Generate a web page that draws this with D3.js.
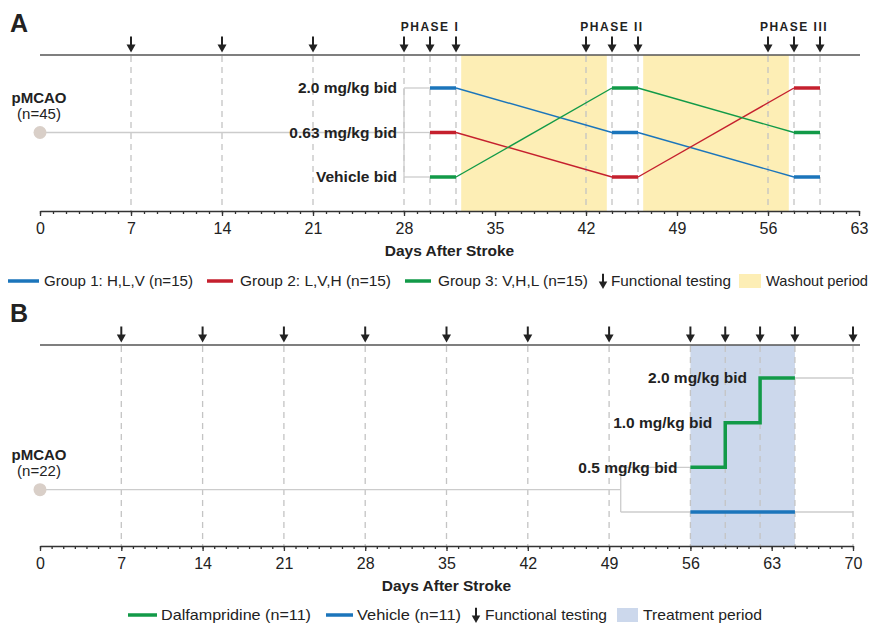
<!DOCTYPE html>
<html>
<head>
<meta charset="utf-8">
<script src="https://cdn.jsdelivr.net/npm/d3@7"></script>
<style>
  body { margin: 0; background: #fff; }
  svg { font-family: "Liberation Sans", Arial, sans-serif; }
  .tick text { font-size: 16px; fill: #222; }
  .axis path, .axis line { stroke: #333; stroke-width: 1.3; }
</style>
</head>
<body>
<svg id="chart" width="874" height="624"></svg>
<script>
// Panel A - crossover design
var ticksA = [0, 7, 14, 21, 28, 35, 42, 49, 56, 63];
var testDaysA = [7, 14, 21, 28, 30, 32, 42, 44, 46, 56, 58, 60];
var phaseNames = ["PHASE I", "PHASE II", "PHASE III"];
var phaseDays = [30, 44, 58];
var phaseSpans = [[30, 32], [44, 46], [58, 60]];
var washouts = [[32.4, 43.6], [46.4, 57.6]];
var dosesA = ["2.0 mg/kg bid", "0.63 mg/kg bid", "Vehicle bid"];
var groupNames = ["Group 1: H,L,V (n=15)", "Group 2: L,V,H (n=15)", "Group 3: V,H,L (n=15)"];
// dose index per phase (0 = high, 1 = low, 2 = vehicle)
var groupSeq = [[0, 1, 2], [1, 2, 0], [2, 0, 1]];
var groupColors = ["#1b75bb", "#c5202e", "#129a48"];

// Panel B - dose escalation
var ticksB = [0, 7, 14, 21, 28, 35, 42, 49, 56, 63, 70];
var testDaysB = [7, 14, 21, 28, 35, 42, 49, 56, 59, 62, 65, 70];
var treatment = [56, 65];
var dosesB = ["2.0 mg/kg bid", "1.0 mg/kg bid", "0.5 mg/kg bid", "Vehicle"];
var dalfSteps = [[56, 59, "0.5 mg/kg bid"], [59, 62, "1.0 mg/kg bid"], [62, 65, "2.0 mg/kg bid"]];
var randomDay = 50;
var endDayB = 70;

var svg = d3.select("#chart");

function arrow(g, x, tipY, size) {
	var s = size || 1;
	g.append("line")
		.attr("x1", x).attr("x2", x)
		.attr("y1", tipY - 16 * s).attr("y2", tipY - 6 * s)
		.attr("stroke", "#222").attr("stroke-width", 2);
	g.append("path")
		.attr("d", "M" + (x - 4.5 * s) + "," + (tipY - 8 * s) + "L" + (x + 4.5 * s) + "," + (tipY - 8 * s) + "L" + x + "," + tipY + "Z")
		.attr("fill", "#222");
}

// common frame for a panel: top line, arrows, dashed guides, axis
function frame(x, topY, axisY, ticks, testDays, maxDay) {
	var g = svg.append("g");
	g.append("line")
		.attr("x1", 40).attr("x2", 860).attr("y1", topY).attr("y2", topY)
		.attr("stroke", "#555").attr("stroke-width", 1.3);
	testDays.forEach(function (d) {
		g.append("line")
			.attr("x1", x(d)).attr("x2", x(d))
			.attr("y1", topY + 1).attr("y2", axisY)
			.attr("stroke", "#c4c4c4").attr("stroke-width", 1.3)
			.attr("stroke-dasharray", "6,5");
		arrow(g, x(d), topY - 2.5);
	});
	var minor = g.append("g").attr("class", "axis")
		.attr("transform", "translate(0," + axisY + ")")
		.call(d3.axisBottom(x).tickValues(d3.range(0, maxDay + 1)).tickSize(3).tickFormat(""));
	minor.select(".domain").remove();
	g.append("g").attr("class", "axis")
		.attr("transform", "translate(0," + axisY + ")")
		.call(d3.axisBottom(x).tickValues(ticks).tickSize(5).tickPadding(7).tickSizeOuter(0));
	g.append("text")
		.attr("x", (x(0) + x(maxDay)) / 2).attr("y", axisY + 45)
		.attr("text-anchor", "middle")
		.style("font-size", "15.5px").style("font-weight", "bold").attr("fill", "#222")
		.text("Days After Stroke");
	return g;
}

function startLabel(cy, n) {
	svg.append("text").attr("x", 39).attr("y", cy - 30)
		.attr("text-anchor", "middle").style("font-size", "15px").style("font-weight", "bold")
		.attr("fill", "#222").text("pMCAO");
	svg.append("text").attr("x", 39).attr("y", cy - 14)
		.attr("text-anchor", "middle").style("font-size", "15px")
		.attr("fill", "#222").text("(n=" + n + ")");
}

function doseLabel(xr, y, txt) {
	svg.append("text").attr("x", xr).attr("y", y).attr("dy", "0.35em")
		.attr("text-anchor", "end").style("font-size", "15.5px").style("font-weight", "bold")
		.attr("fill", "#222").text(txt);
}

function gline(x1, y1, x2, y2) {
	svg.append("line").attr("x1", x1).attr("x2", x2).attr("y1", y1).attr("y2", y2)
		.attr("stroke", "#ccc").attr("stroke-width", 1.3);
}

// ---------------- Panel A ----------------
var xA = d3.scaleLinear().domain([0, 63]).range([40, 859]);
var yA = d3.scalePoint().domain(dosesA).range([88, 177]);
var topA = 55, axisA = 211;

svg.selectAll("rect.washout").data(washouts).enter().append("rect")
	.attr("class", "washout")
	.attr("x", function (d) { return xA(d[0]); })
	.attr("width", function (d) { return xA(d[1]) - xA(d[0]); })
	.attr("y", topA).attr("height", axisA - topA)
	.attr("fill", "#fdeeb5");

frame(xA, topA, axisA, ticksA, testDaysA, 63);

svg.append("text").attr("x", 10).attr("y", 32)
	.style("font-size", "25px").style("font-weight", "bold").attr("fill", "#222").text("A");

phaseNames.forEach(function (p, i) {
	svg.append("text").attr("x", xA(phaseDays[i])).attr("y", 31)
		.attr("text-anchor", "middle").style("font-size", "12px").style("font-weight", "bold")
		.style("letter-spacing", "1.5px").attr("fill", "#222").text(p);
});

var midA = yA(dosesA[1]);
gline(xA(0), midA, xA(28), midA);
gline(xA(28), yA(dosesA[0]), xA(28), yA(dosesA[2]));
dosesA.forEach(function (d) {
	gline(xA(28), yA(d), xA(30), yA(d));
	doseLabel(xA(28) - 7, yA(d), d);
});
svg.append("circle").attr("cx", xA(0)).attr("cy", midA).attr("r", 6.5).attr("fill", "#d9cfc8");
startLabel(midA, 45);

groupSeq.forEach(function (seq, gi) {
	var col = groupColors[gi];
	// thin transitions between phases
	for (var p = 0; p < seq.length - 1; p++) {
		svg.append("line")
			.attr("x1", xA(phaseSpans[p][1])).attr("y1", yA(dosesA[seq[p]]))
			.attr("x2", xA(phaseSpans[p + 1][0])).attr("y2", yA(dosesA[seq[p + 1]]))
			.attr("stroke", col).attr("stroke-width", 1.4);
	}
	seq.forEach(function (di, p) {
		svg.append("line")
			.attr("x1", xA(phaseSpans[p][0])).attr("x2", xA(phaseSpans[p][1]))
			.attr("y1", yA(dosesA[di])).attr("y2", yA(dosesA[di]))
			.attr("stroke", col).attr("stroke-width", 3.5);
	});
});

// legend A
function legLine(x1, x2, y, col) {
	svg.append("line").attr("x1", x1).attr("x2", x2).attr("y1", y).attr("y2", y)
		.attr("stroke", col).attr("stroke-width", 3.5);
}
function legText(x, y, w, txt) {
	svg.append("text").attr("x", x).attr("y", y).attr("dy", "0.36em")
		.attr("textLength", w).attr("lengthAdjust", "spacingAndGlyphs")
		.style("font-size", "15px").attr("fill", "#222").text(txt);
}
var legA = 281;
var legAx = [[8, 39, 44, 149], [207, 233, 240, 151], [405, 431, 438, 150]];
groupNames.forEach(function (n, i) {
	legLine(legAx[i][0], legAx[i][1], legA, groupColors[i]);
	legText(legAx[i][2], legA, legAx[i][3], n);
});
arrow(svg, 603, legA + 8, 0.95);
legText(611, legA, 120, "Functional testing");
svg.append("rect").attr("x", 739).attr("y", legA - 7).attr("width", 22).attr("height", 14).attr("fill", "#fdeeb5");
legText(766, legA, 102, "Washout period");

// ---------------- Panel B ----------------
var xB = d3.scaleLinear().domain([0, 70]).range([40, 853]);
var yB = d3.scalePoint().domain(dosesB).range([378, 512]);
var topB = 345, axisB = 546;

svg.append("rect")
	.attr("x", xB(treatment[0])).attr("width", xB(treatment[1]) - xB(treatment[0]))
	.attr("y", topB).attr("height", axisB - topB)
	.attr("fill", "#ccd8ec");

frame(xB, topB, axisB, ticksB, testDaysB, 70);

svg.append("text").attr("x", 10).attr("y", 322)
	.style("font-size", "25px").style("font-weight", "bold").attr("fill", "#222").text("B");

var lowY = yB("0.5 mg/kg bid"), vehY = yB("Vehicle");
var midB = (lowY + vehY) / 2;
gline(xB(0), midB, xB(randomDay), midB);
gline(xB(randomDay), lowY, xB(randomDay), vehY);
gline(xB(randomDay), lowY, xB(treatment[0]), lowY);
gline(xB(randomDay), vehY, xB(treatment[0]), vehY);
gline(xB(treatment[1]), yB("2.0 mg/kg bid"), xB(endDayB), yB("2.0 mg/kg bid"));
gline(xB(treatment[1]), vehY, xB(endDayB), vehY);
svg.append("circle").attr("cx", xB(0)).attr("cy", midB).attr("r", 6.5).attr("fill", "#d9cfc8");
startLabel(midB, 22);

dalfSteps.forEach(function (s) {
	doseLabel(xB(s[0]) - 13, yB(s[2]), s[2]);
});

var stepPts = [];
dalfSteps.forEach(function (s) {
	stepPts.push([xB(s[0]), yB(s[2])]);
	stepPts.push([xB(s[1]), yB(s[2])]);
});
svg.append("path").attr("d", d3.line()(stepPts))
	.attr("fill", "none").attr("stroke", "#129a48").attr("stroke-width", 3.5);
svg.append("line")
	.attr("x1", xB(treatment[0])).attr("x2", xB(treatment[1]))
	.attr("y1", vehY).attr("y2", vehY)
	.attr("stroke", "#1b75bb").attr("stroke-width", 3.5);

// legend B
var legB = 615;
legLine(128, 157, legB, "#129a48");
legText(161, legB, 150, "Dalfampridine (n=11)");
legLine(326, 353, legB, "#1b75bb");
legText(357, legB, 104, "Vehicle (n=11)");
arrow(svg, 476, legB + 8, 0.95);
legText(485, legB, 122, "Functional testing");
svg.append("rect").attr("x", 617).attr("y", legB - 7).attr("width", 21).attr("height", 14).attr("fill", "#ccd8ec");
legText(643, legB, 119, "Treatment period");
</script>
</body>
</html>
